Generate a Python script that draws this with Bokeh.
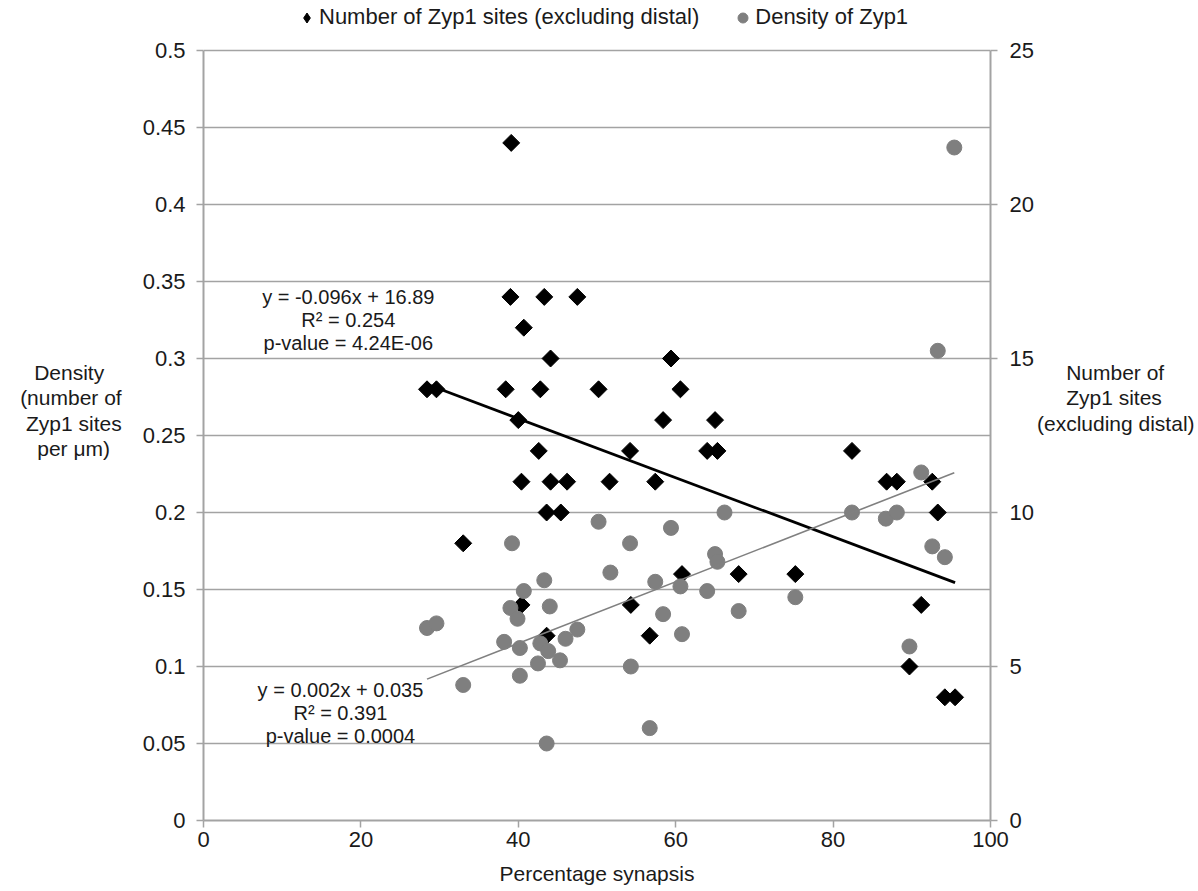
import numpy as np
from bokeh.plotting import figure
from bokeh.models import Range1d, LinearAxis, Label, Legend, LegendItem, FixedTicker
from bokeh.embed import file_html
from bokeh.resources import INLINE

# ---- data ----
# Number of Zyp1 sites (excluding distal) vs percentage synapsis (right axis)
pct_sites = [28.4, 29.6, 33.0, 38.4, 39.0, 39.1, 40.0, 40.4, 40.4, 40.7,
             42.6, 42.8, 43.3, 43.6, 43.6, 44.1, 44.1, 45.4, 46.2, 47.5,
             50.2, 51.6, 54.2, 54.3, 56.7, 57.4, 58.4, 59.4, 60.6, 60.8,
             64.0, 65.0, 65.3, 68.0, 75.2, 82.4, 86.8, 88.1, 92.6, 93.3,
             91.2, 89.7, 94.2, 95.5]
n_sites = [14, 14, 9, 14, 17, 22, 13, 11, 7, 16,
           12, 14, 17, 10, 6, 11, 15, 10, 11, 17,
           14, 11, 12, 7, 6, 11, 13, 15, 14, 8,
           12, 13, 12, 8, 8, 12, 11, 11, 11, 10,
           7, 5, 4, 4]

# Density of Zyp1 (sites per um) vs percentage synapsis (left axis)
pct_density = [28.4, 29.6, 33.0, 38.2, 39.0, 39.2, 39.9, 40.2, 40.2, 40.7,
               42.5, 42.8, 43.3, 43.6, 43.8, 44.0, 45.3, 46.0, 47.5, 50.2,
               51.7, 54.2, 54.3, 56.7, 57.4, 58.4, 59.4, 60.6, 60.8, 64.0,
               65.0, 65.3, 66.2, 68.0, 75.2, 82.4, 86.7, 88.1, 89.7, 91.2,
               92.6, 93.3, 94.2, 95.4]
density = [0.125, 0.128, 0.088, 0.116, 0.138, 0.180, 0.131, 0.112, 0.094, 0.149,
           0.102, 0.115, 0.156, 0.050, 0.110, 0.139, 0.104, 0.118, 0.124, 0.194,
           0.161, 0.180, 0.100, 0.060, 0.155, 0.134, 0.190, 0.152, 0.121, 0.149,
           0.173, 0.168, 0.200, 0.136, 0.145, 0.200, 0.196, 0.200, 0.113, 0.226,
           0.178, 0.305, 0.171, 0.437]

# trend-line coefficients (as printed on the chart)
sites_slope, sites_intercept = -0.096, 16.89
dens_slope, dens_intercept = 0.002, 0.035
sites_eq = ["y = -0.096x + 16.89", "R\u00b2 = 0.254", "p-value = 4.24E-06"]
dens_eq = ["y = 0.002x + 0.035", "R\u00b2 = 0.391", "p-value = 0.0004"]

x_ticks = [0, 20, 40, 60, 80, 100]
left_ticks = [0, 0.05, 0.1, 0.15, 0.2, 0.25, 0.3, 0.35, 0.4, 0.45, 0.5]
left_tick_labels = ["0", "0.05", "0.1", "0.15", "0.2", "0.25", "0.3", "0.35", "0.4", "0.45", "0.5"]
right_ticks = [0, 5, 10, 15, 20, 25]
left_max, right_max = 0.5, 25

series_names = ["Number of Zyp1 sites (excluding distal)", "Density of Zyp1"]
x_title = "Percentage synapsis"
left_title_lines = ["Density", "(number of", "Zyp1 sites", "per \u03bcm)"]
right_title_lines = ["Number of", "Zyp1 sites", "(excluding distal)"]

# ---- styling ----
FONT = "Liberation Sans"
GRID = "#a3a3a3"
TXT = "#1a1a1a"
DOT = "#7f7f7f"
NB = "\u00a0"

# centre the lines of a multi-line axis title (Bokeh aligns them to the axis side)
# approximate Liberation Sans advance widths (em)
_W = {" ": .278, "(": .333, ")": .333, "1": .556, "\u03bc": .576, "D": .722, "N": .722,
      "Z": .611, "b": .556, "c": .5, "d": .556, "e": .556, "f": .278, "g": .556,
      "i": .222, "l": .222, "m": .833, "n": .556, "o": .556, "p": .556, "r": .333,
      "s": .5, "t": .278, "u": .556, "x": .5, "y": .5, "a": .556}

def _w(t):
    return sum(_W.get(c, .556) for c in t)

def centred(lines, side):
    wmax = max(_w(t) for t in lines)
    out = []
    for t in lines:
        n = int(round((wmax - _w(t)) / 2 / _W[" "]))
        out.append(t + NB * n if side == "right_aligned" else NB * n + t)
    return "\n".join(out)

W, H = 1198, 891
TOP_PAD, BOTTOM = 50, 71          # space above the 0.5 line / below the frame
frame_h = H - BOTTOM
headroom = frame_h / (frame_h - TOP_PAD)   # room for the legend inside the frame

p = figure(width=W, height=H,
           x_range=Range1d(0, 100), y_range=Range1d(0, left_max * headroom),
           output_backend="svg", toolbar_location=None,
           min_border_left=203, min_border_right=208,
           min_border_top=0, min_border_bottom=BOTTOM)
p.extra_y_ranges = {"right": Range1d(0, right_max * headroom)}
p.outline_line_color = None
p.background_fill_color = "white"
p.border_fill_color = "white"

p.xgrid.visible = False
p.ygrid.ticker = FixedTicker(ticks=left_ticks)
p.ygrid.grid_line_color = GRID
p.ygrid.grid_line_width = 1.6

def style_axis(ax):
    ax.axis_line_color = GRID
    ax.axis_line_width = 2
    ax.major_tick_line_color = GRID
    ax.major_tick_line_width = 1.5
    ax.major_tick_in = 0
    ax.major_tick_out = 7
    ax.minor_tick_line_color = None
    ax.major_label_text_font = FONT
    ax.major_label_text_font_size = "22px"
    ax.major_label_text_color = TXT
    ax.axis_label_text_font = FONT
    ax.axis_label_text_font_size = "21px"
    ax.axis_label_text_font_style = "normal"
    ax.axis_label_text_color = TXT
    ax.axis_label_text_line_height = 1.1

def horizontal_label(ax):
    if hasattr(ax, "axis_label_orientation"):
        ax.axis_label_orientation = "horizontal"

xa = p.xaxis[0]
style_axis(xa)
xa.ticker = FixedTicker(ticks=x_ticks)
xa.major_label_standoff = 4
xa.axis_label = x_title
xa.axis_label_standoff = 12

ya = p.yaxis[0]
style_axis(ya)
ya.ticker = FixedTicker(ticks=left_ticks)
ya.bounds = (0, left_max)
ya.major_label_overrides = dict(zip(left_ticks, left_tick_labels))
ya.major_label_standoff = 11
ya.axis_label = centred(left_title_lines, "right_aligned")
ya.axis_label_standoff = 18
horizontal_label(ya)

ra = LinearAxis(y_range_name="right", ticker=FixedTicker(ticks=right_ticks),
                bounds=(0, right_max))
style_axis(ra)
ra.major_label_standoff = 12
ra.axis_label = centred(right_title_lines, "left_aligned") + "\n" + NB
ra.axis_label_standoff = 0
horizontal_label(ra)
p.add_layout(ra, "right")

# ---- marks ----
r_sites = p.scatter(pct_sites, n_sites, y_range_name="right", marker="square",
                    angle=np.pi / 4, size=12, fill_color="black", line_color="black")
r_dens = p.scatter(pct_density, density, marker="circle", size=15,
                   fill_color=DOT, line_color=DOT)

xs_s = np.array([min(pct_sites), max(pct_sites)])
p.line(xs_s, sites_slope * xs_s + sites_intercept, y_range_name="right",
       line_color="black", line_width=2.8)
xs_d = np.array([min(pct_density), max(pct_density)])
p.line(xs_d, dens_slope * xs_d + dens_intercept, line_color="#808080", line_width=1.6)

# hidden proxy so the legend shows a diamond symbol
r_sites_key = p.scatter(pct_sites, n_sites, y_range_name="right", marker="diamond",
                        fill_color="black", line_color="black", visible=False)

# ---- legend (inside the frame's head-room, above the 0.5 line) ----
legend = Legend(items=[LegendItem(label=series_names[0], renderers=[r_sites_key]),
                       LegendItem(label=series_names[1], renderers=[r_dens])],
                orientation="horizontal", location=(91, 790),
                glyph_width=25, glyph_height=25, label_standoff=0, spacing=31,
                padding=0, margin=0, border_line_alpha=0, background_fill_alpha=0,
                label_text_font=FONT, label_text_font_size="22px",
                label_text_color=TXT, label_height=25)
p.add_layout(legend)

# ---- regression equations ----
def add_block(lines, x, y, spacing, size="20px"):
    n = len(lines)
    for i, t in enumerate(lines):
        off = ((n - 1) / 2 - i) * spacing
        p.add_layout(Label(x=x, y=y, y_offset=off, text=t, text_align="center",
                           text_baseline="middle", text_font=FONT,
                           text_font_size=size, text_color=TXT))

add_block(sites_eq, 18.4, 0.3247, 23)
add_block(dens_eq, 17.4, 0.0695, 23)

open("out.html", "w").write(file_html(p, INLINE))
